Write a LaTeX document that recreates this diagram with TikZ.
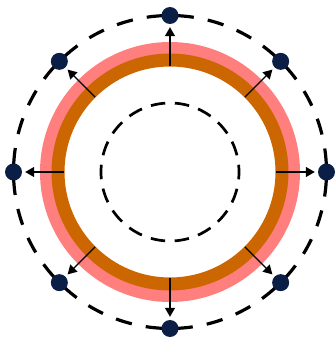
\documentclass[tikz,border=0pt]{standalone}
\usetikzlibrary{arrows.meta,calc}
\definecolor{ringpink}{HTML}{FF7F7F}
\definecolor{ringorange}{HTML}{CC6600}
\definecolor{dotnavy}{HTML}{0B1E45}
\begin{document}
\begin{tikzpicture}[x=1pt,y=1pt,
  outerdash/.style={draw=black,line width=3.2pt,dash pattern=on 16.5pt off 14.2pt,dash phase=23.6pt},
  innerdash/.style={draw=black,line width=2.7pt,dash pattern=on 14.5pt off 9.58pt,dash phase=7.25pt},
  dotnode/.style={circle,fill=dotnavy,inner sep=0pt,minimum size=17pt},
  pusharrow/.style={draw=black,line width=1.4pt,-{Triangle[length=9pt,width=10pt]},shorten >=3pt}]
\useasboundingbox (0,0) rectangle (335,341);
\coordinate (c) at (170,169);
\draw[ringpink,line width=12pt] (c) circle[radius=124];
\draw[ringorange,line width=13pt] (c) circle[radius=112];
\draw[innerdash] (c) circle[radius=69];
\draw[outerdash] (c) circle[radius=156.5];
\foreach \a/\n in {0/e,45/ne,90/n,135/nw,180/w,225/sw,270/s,315/se}{
  \node[dotnode] (d\n) at ($(c)+(\a:156.5)$) {};
  \coordinate (s\n) at ($(c)+(\a:106)$);
  \draw[pusharrow] (s\n) -- (d\n);
}
\end{tikzpicture}
\end{document}
